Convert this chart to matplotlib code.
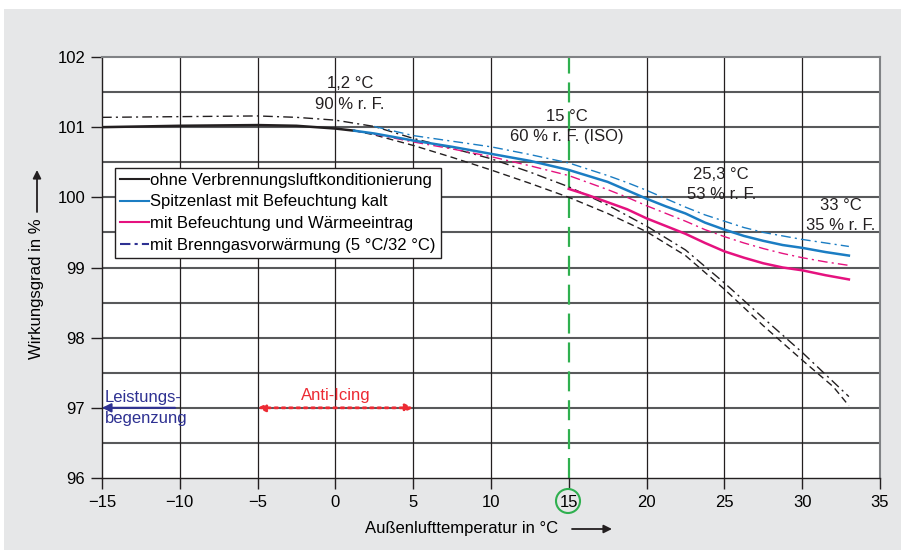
import matplotlib.pyplot as plt
from matplotlib.patches import Rectangle, Ellipse
from matplotlib.lines import Line2D

plt.rcParams['font.family'] = ['Liberation Sans', 'DejaVu Sans']

# curve data
t_ohne = [-15, -10, -5, -2.5, 0, 1.2]
v_ohne = [101.0, 101.02, 101.03, 101.02, 100.98, 100.95]

t_ohne_dash = [1.2, 2.5, 5, 7.5, 10, 12.5, 15, 17.5, 20, 22.5, 25, 27.5, 30, 32, 33]
v_ohne_dash = [100.95, 100.89, 100.74, 100.57, 100.39, 100.2, 100.0, 99.77, 99.51, 99.17,
               98.69, 98.17, 97.68, 97.3, 97.03]

t_blau = [1.2, 2.5, 5, 7.5, 10, 12.5, 15, 17.5, 20, 21.25, 22.5, 23.75, 25, 26.25, 27.5,
          28.75, 30, 31.5, 33]
v_blau = [100.95, 100.91, 100.81, 100.72, 100.62, 100.52, 100.39, 100.22, 99.98, 99.87,
          99.77, 99.64, 99.54, 99.45, 99.38, 99.32, 99.28, 99.22, 99.17]

t_blau_dd = [2.5, 5, 7.5, 10, 12.5, 15, 17.5, 18.75, 20, 21.25, 22.5, 23.75, 25, 26.25,
             27.5, 28.75, 30, 31.5, 33]
v_blau_dd = [101.01, 100.88, 100.80, 100.72, 100.61, 100.49, 100.31, 100.21, 100.1, 99.98,
             99.86, 99.75, 99.66, 99.57, 99.50, 99.45, 99.40, 99.35, 99.30]

t_pink_dd = [1.2, 2.5, 5, 7.5, 10, 12.5, 15, 17.5, 18.75, 20, 21.25, 22.5, 23.75, 25,
             26.25, 27.5, 28.75, 30, 31.5, 33]
v_pink_dd = [100.95, 100.9, 100.79, 100.69, 100.58, 100.45, 100.31, 100.11, 100.0, 99.88,
             99.77, 99.66, 99.54, 99.44, 99.35, 99.27, 99.2, 99.14, 99.08, 99.03]

t_pink = [15, 16.25, 17.5, 18.75, 20, 21.25, 22.5, 23.75, 25, 26.25, 27.5, 28.75, 30,
          31.5, 33]
v_pink = [100.12, 100.03, 99.93, 99.83, 99.70, 99.59, 99.48, 99.35, 99.23, 99.14, 99.06,
          99.0, 98.96, 98.89, 98.83]

t_brenngas = [-15, -10, -5, -2.5, 0, 2.5, 5, 7.5, 10, 12.5, 15, 17.5, 20, 22.5, 25, 27.5, 30, 33]
v_brenngas = [101.14, 101.15, 101.16, 101.14, 101.10, 101.01, 100.84, 100.70, 100.55, 100.36,
              100.15, 99.89, 99.59, 99.25, 98.78, 98.28, 97.79, 97.16]

legend_labels = ['ohne Verbrennungsluftkonditionierung', 'Spitzenlast mit Befeuchtung kalt',
                 'mit Befeuchtung und Wärmeeintrag', 'mit Brenngasvorwärmung (5 °C/32 °C)']

# state points: (T, text)
points = [(0.94, 101.47, '1,2 °C\n90 % r. F.'),
          (14.9, 101.01, '15 °C\n60 % r. F. (ISO)'),
          (24.8, 100.18, '25,3 °C\n53 % r. F.'),
          (32.5, 99.74, '33 °C\n35 % r. F.')]

c_black = '#231f20'
c_blue = '#1b7dc3'
c_pink = '#e5127f'
c_navy = '#2e3192'
c_green = '#2fb04f'
c_red = '#ec2a33'
dd = (0, (7, 3, 1.5, 3))
dash = (0, (5, 3))

fig = plt.figure(figsize=(9.01, 5.57), dpi=100, facecolor='white')
fig.patches.append(Rectangle((4 / 901, 1 - 550 / 557), 1, (550 - 9) / 557,
                             transform=fig.transFigure, facecolor='#e6e7e8',
                             edgecolor='none', zorder=-10))
ax = fig.add_axes([102 / 901, 1 - 478 / 557, 778 / 901, 421 / 557])
ax.set_facecolor('white')

ax.set_xlim(-15, 35)
ax.set_ylim(96, 102)
ax.set_xticks(range(-15, 36, 5))
ax.set_yticks(range(96, 103))
ax.tick_params(labelsize=12, length=8, width=1, color=c_black, pad=4)

# grid
for y in [96.5 + 0.5 * i for i in range(11)]:
    ax.axhline(y, color='#58595b', lw=1.5, zorder=1)
for x in [-10, -5, 0, 5, 10, 20, 25, 30]:
    ax.axvline(x, color=c_black, lw=0.9, zorder=1)
for s in ['left', 'bottom']:
    ax.spines[s].set_color(c_black)
    ax.spines[s].set_linewidth(1)
for s in ['top', 'right']:
    ax.spines[s].set_color('#808285')
    ax.spines[s].set_linewidth(1.5)

# reference line at 15 °C
ax.axvline(15, color=c_green, lw=1.6, ls=(0, (9, 4)), zorder=2)

# curves
ax.plot(t_brenngas, v_brenngas, color=c_black, lw=1.0, ls=dd, zorder=3)
ax.plot(t_ohne_dash, v_ohne_dash, color=c_black, lw=1.0, ls=dash, zorder=3)
ax.plot(t_ohne, v_ohne, color=c_black, lw=1.8, zorder=4)
ax.plot(t_blau_dd, v_blau_dd, color=c_blue, lw=1.0, ls=dd, zorder=3)
ax.plot(t_pink_dd, v_pink_dd, color=c_pink, lw=1.0, ls=dd, zorder=3)
ax.plot(t_pink, v_pink, color=c_pink, lw=1.8, zorder=4)
ax.plot(t_blau, v_blau, color=c_blue, lw=1.8, zorder=5)

for x, y, txt in points:
    ax.text(x, y, txt, ha='center', va='center', fontsize=12, linespacing=1.45,
            color=c_black, zorder=6)

# legend
handles = [Line2D([], [], color=c_black, lw=1.5),
           Line2D([], [], color=c_blue, lw=1.5),
           Line2D([], [], color=c_pink, lw=1.5),
           Line2D([], [], color=c_navy, lw=1.5, ls=(0, (5, 2, 1.5, 2)))]
leg = ax.legend(handles, legend_labels, loc='upper left', bbox_to_anchor=(0.017, 0.737),
                borderaxespad=0, fontsize=12, handlelength=1.7, handletextpad=0.1,
                labelspacing=0.4, borderpad=0.3, fancybox=False, framealpha=1,
                edgecolor=c_black)
leg.get_frame().set_linewidth(1)
leg.set_zorder(7)

# Anti-Icing and Leistungsbegrenzung
ax.annotate('', xy=(-5, 97), xytext=(5, 97),
            arrowprops=dict(arrowstyle='<|-|>', color=c_red, lw=2, ls=':',
                            mutation_scale=11, shrinkA=0, shrinkB=0), zorder=6)
ax.text(0, 97.17, 'Anti-Icing', color=c_red, fontsize=12, ha='center', va='center')
ax.annotate('', xy=(-15, 97), xytext=(-10.3, 97),
            arrowprops=dict(arrowstyle='-|>', color=c_navy, lw=1.5,
                            mutation_scale=13, shrinkA=0, shrinkB=0), zorder=6)
ax.text(-14.8, 97.0, 'Leistungs-\nbegenzung', color=c_navy, fontsize=12,
        ha='left', va='center', linespacing=1.45)

# circle round the 15 tick label
fig.patches.append(Ellipse((568 / 901, 1 - 501 / 557), 24 / 901, 24 / 557,
                           transform=fig.transFigure, facecolor='none',
                           edgecolor=c_green, lw=1.5))

# axis titles with arrows
fig.text(462 / 901, 1 - 529 / 557, 'Außenlufttemperatur in °C', ha='center', va='center',
         fontsize=12)
ax.annotate('', xy=(612 / 901, 1 - 529 / 557), xytext=(572 / 901, 1 - 529 / 557),
            xycoords='figure fraction', annotation_clip=False,
            arrowprops=dict(arrowstyle='-|>', color=c_black, lw=1.3,
                            mutation_scale=12, shrinkA=0, shrinkB=0))
fig.text(37 / 901, 1 - 289 / 557, 'Wirkungsgrad in %', ha='center', va='center',
         fontsize=12, rotation=90)
ax.annotate('', xy=(37 / 901, 1 - 170 / 557), xytext=(37 / 901, 1 - 212 / 557),
            xycoords='figure fraction', annotation_clip=False,
            arrowprops=dict(arrowstyle='-|>', color=c_black, lw=1.3,
                            mutation_scale=12, shrinkA=0, shrinkB=0))

fig.savefig('out.png', dpi=100, facecolor=fig.get_facecolor())
